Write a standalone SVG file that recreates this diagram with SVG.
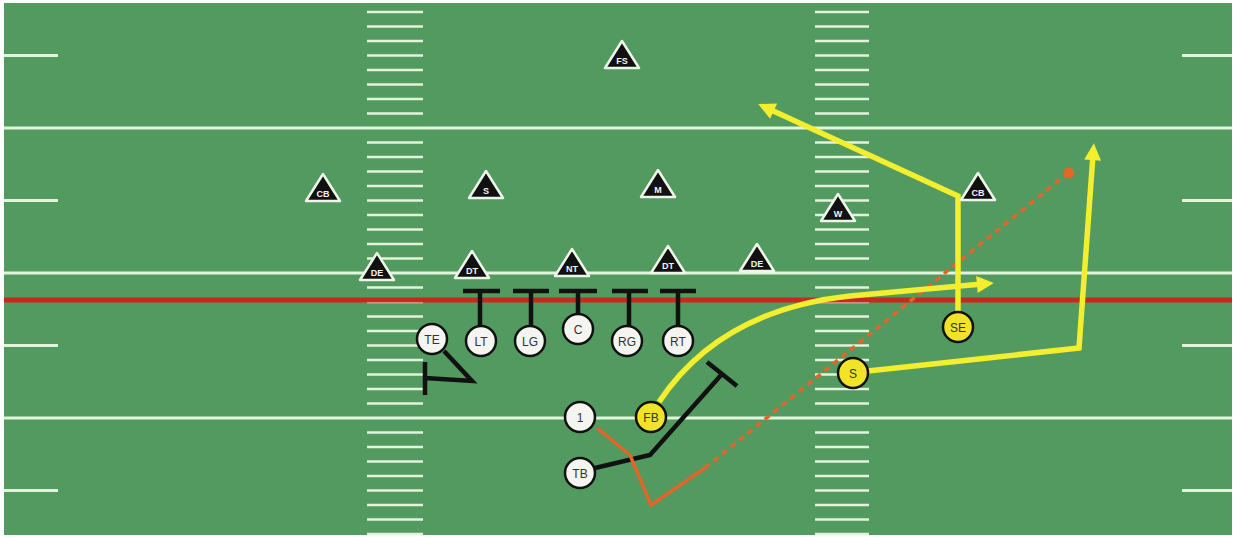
<svg xmlns="http://www.w3.org/2000/svg" width="1235" height="538" viewBox="0 0 1235 538">
<defs>
<style>
.yl{stroke:#e3f4dc;stroke-width:3;fill:none}
.hash{stroke:#e3f4dc;stroke-width:2.6;fill:none}
.tri polygon{fill:#111;stroke:#eef6ea;stroke-width:2.5;stroke-linejoin:round}
.tri text{fill:#f4f4f4;font-family:"Liberation Sans",Arial,sans-serif;font-size:9px;font-weight:bold;text-anchor:middle}
.off circle{fill:#f4f4f0;stroke:#111;stroke-width:2.5}
.off.y circle{fill:#f1e32a}
.off text{fill:#333;font-family:"Liberation Sans",Arial,sans-serif;font-size:12px;text-anchor:middle}
.blk{stroke:#111;stroke-width:4.5;fill:none;stroke-linejoin:miter}
.yel{stroke:#f3ee2e;stroke-width:5.5;fill:none;stroke-linejoin:miter}
.org{stroke:#e2652a;stroke-width:3.5;fill:none}
</style>
<marker id="ah" viewBox="0 0 10 10" refX="3" refY="5" markerWidth="19" markerHeight="17" markerUnits="userSpaceOnUse" orient="auto">
<path d="M0,0 L10,5 L0,10 z" fill="#f3ee2e"/>
</marker>
</defs>
<rect width="1235" height="538" fill="#ffffff"/>
<g id="field">
<rect x="4" y="3" width="1228" height="532" fill="#529a5f"/>
<path class="yl" d="M4,128 H1232 M4,273 H1232 M4,418 H1232"/>
<path class="yl" d="M4,55.5 H58 M4,200.5 H58 M4,345.5 H58 M4,490.5 H58 M1182,55.5 H1232 M1182,200.5 H1232 M1182,345.5 H1232 M1182,490.5 H1232"/>
<path class="hash" d="M367,12h56M367,26.5h56M367,41h56M367,55.5h56M367,70h56M367,84.5h56M367,99h56M367,113.5h56M367,142.5h56M367,157h56M367,171.5h56M367,186h56M367,200.5h56M367,215h56M367,229.5h56M367,244h56M367,258.5h56M367,287.5h56M367,302h56M367,316.5h56M367,331h56M367,345.5h56M367,360h56M367,374.5h56M367,389h56M367,403.5h56M367,432.5h56M367,447h56M367,461.5h56M367,476h56M367,490.5h56M367,505h56M367,519.5h56M367,534h56"/>
<path class="hash" d="M815,12h54M815,26.5h54M815,41h54M815,55.5h54M815,70h54M815,84.5h54M815,99h54M815,113.5h54M815,142.5h54M815,157h54M815,171.5h54M815,186h54M815,200.5h54M815,215h54M815,229.5h54M815,244h54M815,258.5h54M815,287.5h54M815,302h54M815,316.5h54M815,331h54M815,345.5h54M815,360h54M815,374.5h54M815,389h54M815,403.5h54M815,432.5h54M815,447h54M815,461.5h54M815,476h54M815,490.5h54M815,505h54M815,519.5h54M815,534h54"/>
<line x1="4" y1="300" x2="1232" y2="300" stroke="#c8291f" stroke-width="5"/>
</g>
<g id="connectors">
<path class="blk" d="M480,326 V291 M463,291 H500"/>
<path class="blk" d="M531,326 V291 M513,291 H549"/>
<path class="blk" d="M578,314 V291 M559,291 H597"/>
<path class="blk" d="M629,326 V291 M612,291 H648"/>
<path class="blk" d="M678,326 V291 M660,291 H696"/>
<path class="blk" d="M444,351 L472,381 L425,378 M425,362 V395"/>
<path class="blk" d="M595,468 L650,455 L722,374 M707,362 L737,386"/>
<path class="org" d="M597,428 L630,455 L651,505 L705,468"/>
<path class="org" d="M705,468 L1068,173" stroke-dasharray="6 5"/>
<circle cx="1069" cy="173" r="5.5" fill="#e2652a"/>
<path class="yel" d="M659,402 Q720,310 850,296 L982,284" marker-end="url(#ah)"/>
<path class="yel" d="M958,312 V196 L769,109" marker-end="url(#ah)"/>
<path class="yel" d="M868,371 L1079,348 L1093,155" marker-end="url(#ah)"/>
</g>
<g id="def-FS" class="tri"><polygon points="622,41 605,68 639,68"/><text x="622" y="64">FS</text></g>
<g id="def-CB-left" class="tri"><polygon points="323,174 306,201 340,201"/><text x="323" y="197">CB</text></g>
<g id="def-S" class="tri"><polygon points="486,171 469,198 503,198"/><text x="486" y="194">S</text></g>
<g id="def-M" class="tri"><polygon points="658,170 641,197 675,197"/><text x="658" y="193">M</text></g>
<g id="def-W" class="tri"><polygon points="838,194 821,221 855,221"/><text x="838" y="217">W</text></g>
<g id="def-CB-right" class="tri"><polygon points="978,173 961,200 995,200"/><text x="978" y="196">CB</text></g>
<g id="def-DE-left" class="tri"><polygon points="377,253 360,280 394,280"/><text x="377" y="276">DE</text></g>
<g id="def-DT-left" class="tri"><polygon points="472,251 455,278 489,278"/><text x="472" y="274">DT</text></g>
<g id="def-NT" class="tri"><polygon points="572,249 555,276 589,276"/><text x="572" y="272">NT</text></g>
<g id="def-DT-right" class="tri"><polygon points="668,246 651,273 685,273"/><text x="668" y="269">DT</text></g>
<g id="def-DE-right" class="tri"><polygon points="757,244 740,271 774,271"/><text x="757" y="267">DE</text></g>
<g id="off-TE" class="off"><circle cx="432" cy="339" r="15"/><text x="432" y="343.5">TE</text></g>
<g id="off-LT" class="off"><circle cx="481" cy="341" r="15"/><text x="481" y="345.5">LT</text></g>
<g id="off-LG" class="off"><circle cx="530" cy="341" r="15"/><text x="530" y="345.5">LG</text></g>
<g id="off-C" class="off"><circle cx="578" cy="329" r="15"/><text x="578" y="333.5">C</text></g>
<g id="off-RG" class="off"><circle cx="627" cy="341" r="15"/><text x="627" y="345.5">RG</text></g>
<g id="off-RT" class="off"><circle cx="678" cy="341" r="15"/><text x="678" y="345.5">RT</text></g>
<g id="off-1" class="off"><circle cx="580" cy="417" r="15"/><text x="580" y="421.5">1</text></g>
<g id="off-FB" class="off y"><circle cx="651" cy="417" r="15"/><text x="651" y="421.5">FB</text></g>
<g id="off-TB" class="off"><circle cx="580" cy="473" r="15"/><text x="580" y="477.5">TB</text></g>
<g id="off-SE" class="off y"><circle cx="958" cy="327" r="15"/><text x="958" y="331.5">SE</text></g>
<g id="off-S" class="off y"><circle cx="853" cy="373" r="15"/><text x="853" y="377.5">S</text></g>
</svg>
